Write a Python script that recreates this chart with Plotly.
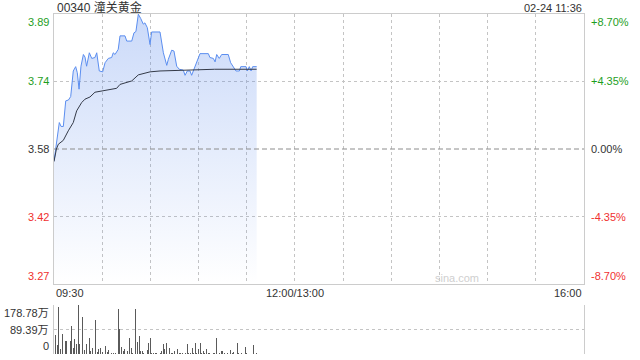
import plotly.graph_objects as go

# ---------------- data ----------------
title_text = "00340 潼关黄金"
stamp_text = "02-24 11:36"
prev_close = 3.58

# minutes since 09:30 (trading session 09:30-12:00, 13:00-16:00 => 330 min)
price_t = [0.0, 2.7, 3.3, 4.4, 5.8, 7.3, 9.0, 10.4, 12.0, 13.5, 14.5, 15.6, 16.8, 18.3,
           19.3, 20.3, 22.0, 23.5, 25.5, 26.6, 28.2, 30.3, 31.8, 33.8, 35.9, 36.9, 38.0,
           40.0, 41.1, 44.2, 45.3, 48.4, 49.8, 51.0, 52.5, 54.0, 55.6, 56.6, 58.1, 59.8,
           60.8, 66.0, 68.1, 70.2, 71.2, 73.3, 74.7, 76.4, 78.0, 80.5, 81.6, 83.0, 84.7,
           85.7, 87.2, 88.4, 89.9, 90.9, 96.1, 97.1, 99.2, 100.3, 101.3, 102.9, 104.4,
           108.5, 110.0, 111.7, 113.3, 115.4, 116.3, 119.6, 120.4, 121.6, 122.7, 123.7, 126.2]
price_v = [3.552, 3.633, 3.641, 3.632, 3.632, 3.691, 3.693, 3.701, 3.760, 3.770, 3.756, 3.718,
           3.771, 3.798, 3.792, 3.771, 3.802, 3.789, 3.791, 3.802, 3.760, 3.758, 3.779, 3.789,
           3.791, 3.802, 3.798, 3.810, 3.841, 3.841, 3.829, 3.829, 3.848, 3.851, 3.891, 3.881,
           3.868, 3.871, 3.860, 3.821, 3.850, 3.850, 3.802, 3.773, 3.787, 3.808, 3.806, 3.771,
           3.764, 3.762, 3.750, 3.760, 3.760, 3.750, 3.764, 3.775, 3.791, 3.800, 3.800, 3.791,
           3.789, 3.781, 3.798, 3.789, 3.798, 3.798, 3.779, 3.770, 3.760, 3.760, 3.770, 3.770,
           3.760, 3.770, 3.760, 3.770, 3.770]

avg_t = [0.0, 1.5, 2.7, 5.8, 8.9, 12.0, 14.1, 16.1, 17.2, 19.3, 22.4, 25.5, 30.7, 39.0,
         41.1, 44.0, 48.4, 52.5, 56.0, 59.8, 66.0, 82.0, 100.0, 126.2]
avg_v = [3.551, 3.580, 3.591, 3.600, 3.622, 3.641, 3.668, 3.680, 3.687, 3.695, 3.700, 3.711,
         3.715, 3.720, 3.729, 3.732, 3.737, 3.751, 3.755, 3.758, 3.760, 3.762, 3.764, 3.764]

# volume, in 万 shares
vol_t = [1, 2, 3, 4, 5, 7, 8, 10, 11, 12, 13, 14, 15, 16, 18, 19, 20, 22, 23, 24, 26, 27,
         28, 29, 30, 32, 33, 34, 36, 37, 38, 40, 41, 42, 43, 44, 46, 47, 48, 49, 51, 52, 53,
         54, 55, 56, 58, 59, 60, 61, 62, 63, 64, 66, 67, 68, 69, 70, 72, 73, 74, 75, 77, 78,
         79, 80, 82, 83, 84, 85, 86, 87, 88, 89, 90, 91, 92, 93, 94, 95, 96, 97, 99, 100, 101,
         103, 104, 105, 106, 108, 110, 111, 112, 114, 115, 117, 119, 120, 124, 126]
vol_v = [69, 33, 173, 17, 73, 47, 47, 47, 102, 23, 54, 35, 178.78, 36, 136, 15, 35, 57, 12, 21,
         124, 9, 17, 21, 9, 29, 9, 15, 2, 2, 5, 166, 90, 27, 12, 17, 11, 57, 21, 5, 164, 45, 66,
         12, 12, 5, 15, 39, 57, 5, 5, 5, 2, 2, 12, 36, 17, 41, 23, 5, 2, 12, 17, 2, 5, 2, 5, 36,
         2, 2, 21, 5, 39, 5, 17, 39, 5, 12, 2, 17, 5, 2, 2, 5, 59, 2, 12, 12, 5, 2, 15, 2, 9, 39,
         5, 2, 27, 2, 33, 2]

vol_max = 178.78
vol_ticks = [0, 89.39, 178.78]
vol_labels = ["0", "89.39万", "178.78万"]
pct_levels = [0.087, 0.0435, 0.0, -0.0435, -0.087]
pct_labels = ["+8.70%", "+4.35%", "0.00%", "-4.35%", "-8.70%"]
price_labels = ["3.89", "3.74", "3.58", "3.42", "3.27"]
time_ticks = [0, 150, 330]
time_labels = ["09:30", "12:00/13:00", "16:00"]
session_end = 330

# ---------------- figure ----------------
GREEN = "#1e9e1e"
RED = "#f0312f"
DARK = "#333333"
GRID = "#c4c4c4"
FONT = "Arial, 'Liberation Sans', 'Noto Sans CJK SC', sans-serif"

ymin = prev_close * (1 + pct_levels[-1])
ymax = prev_close * (1 + pct_levels[0])
level_prices = [prev_close * (1 + p) for p in pct_levels]

fig = go.Figure()

fig.add_trace(go.Scatter(
    x=price_t, y=price_v, mode="lines",
    line=dict(color="#5b8ef0", width=1),
    fill="tozeroy",
    fillgradient=dict(type="vertical",
                      colorscale=[[0, "rgba(80,130,235,0.0)"], [1, "rgba(80,130,235,0.30)"]],
                      start=ymin, stop=ymax),
    hoverinfo="skip", xaxis="x", yaxis="y"))

# previous-close reference line (short dashes)
fig.add_trace(go.Scatter(
    x=[0, session_end], y=[prev_close, prev_close], mode="lines",
    line=dict(color="#8c8c8c", width=1, dash="5px,3px"),
    hoverinfo="skip", xaxis="x", yaxis="y"))

fig.add_trace(go.Scatter(
    x=avg_t, y=avg_v, mode="lines",
    line=dict(color="#343a48", width=1),
    hoverinfo="skip", xaxis="x", yaxis="y"))

fig.add_trace(go.Bar(
    x=vol_t, y=vol_v, width=0.62,
    marker=dict(color="#5a5a5a", line=dict(width=0)),
    hoverinfo="skip", xaxis="x2", yaxis="y2"))

x0, x1 = 54 / 640, 584 / 640
fig.update_layout(
    width=640, height=360, autosize=False,
    margin=dict(l=0, r=0, t=0, b=0),
    paper_bgcolor="white", plot_bgcolor="white",
    showlegend=False, bargap=0,
    font=dict(family=FONT, size=11, color=DARK),
    xaxis=dict(domain=[x0, x1], range=[0, session_end], anchor="y",
               tickmode="array", tickvals=[30 * i for i in range(12)],
               showticklabels=False, ticks="",
               showgrid=True, gridcolor=GRID, griddash="dot", gridwidth=1,
               showline=True, mirror=True, linecolor="#cccccc", linewidth=1,
               zeroline=False, fixedrange=True),
    yaxis=dict(domain=[1 - 284 / 360, 1 - 14 / 360], range=[ymin, ymax], anchor="x",
               tickmode="array", tickvals=[level_prices[1], level_prices[3]],
               showticklabels=False, ticks="",
               showgrid=True, gridcolor=GRID, griddash="dot", gridwidth=1,
               showline=True, mirror=True, linecolor="#cccccc", linewidth=1,
               zeroline=False, fixedrange=True),
    xaxis2=dict(domain=[x0, x1], range=[0, session_end], anchor="y2",
                showticklabels=False, ticks="", showgrid=False,
                showline=False, zeroline=False, fixedrange=True),
    yaxis2=dict(domain=[1 - 354 / 360, 1 - 305 / 360], range=[0, vol_max], anchor="x2",
                tickmode="array", tickvals=vol_ticks,
                showticklabels=False, ticks="",
                showgrid=True, gridcolor=GRID, griddash="dot", gridwidth=1,
                showline=True, mirror=True, linecolor="#cccccc", linewidth=1,
                zeroline=False, fixedrange=True),
)

ann = []
def col(p):
    return GREEN if p > 0 else (RED if p < 0 else DARK)

for i, (p, lp) in enumerate(zip(pct_levels, level_prices)):
    ya = "top" if i == 0 else ("bottom" if i == len(pct_levels) - 1 else "middle")
    ann.append(dict(x=51 / 640, xref="paper", y=lp, yref="y", text=price_labels[i],
                    xanchor="right", yanchor=ya, showarrow=False,
                    font=dict(size=11, color=col(p))))
    ann.append(dict(x=589 / 640, xref="paper", y=lp, yref="y", text=pct_labels[i],
                    xanchor="left", yanchor=ya, showarrow=False,
                    font=dict(size=11, color=col(p))))

for i, (v, lab) in enumerate(zip(vol_ticks, vol_labels)):
    ya = "bottom" if i == 0 else ("top" if i == len(vol_ticks) - 1 else "middle")
    ann.append(dict(x=51 / 640, xref="paper", y=v, yref="y2", text=lab,
                    xanchor="right", yanchor=ya, showarrow=False,
                    font=dict(size=11, color=DARK)))

for i, (t, lab) in enumerate(zip(time_ticks, time_labels)):
    xa = "left" if i == 0 else ("right" if i == len(time_ticks) - 1 else "center")
    ann.append(dict(x=t, xref="x", y=1 - 293 / 360, yref="paper", text=lab,
                    xanchor=xa, yanchor="middle", showarrow=False,
                    font=dict(size=11, color=DARK)))

ann.append(dict(x=55 / 640, xref="paper", y=1 - 7.5 / 360, yref="paper", text=title_text,
                xanchor="left", yanchor="middle", showarrow=False,
                font=dict(size=12, color=DARK)))
ann.append(dict(x=584 / 640, xref="paper", y=1 - 7.5 / 360, yref="paper", text=stamp_text,
                xanchor="right", yanchor="middle", showarrow=False,
                font=dict(size=11, color=DARK)))
ann.append(dict(x=457 / 640, xref="paper", y=1 - 278 / 360, yref="paper", text="sina.com",
                xanchor="center", yanchor="middle", showarrow=False,
                font=dict(size=11, color="#cfcfcf")))

fig.update_layout(annotations=ann)
fig.write_html("out.html", config={"displayModeBar": False, "staticPlot": True})
